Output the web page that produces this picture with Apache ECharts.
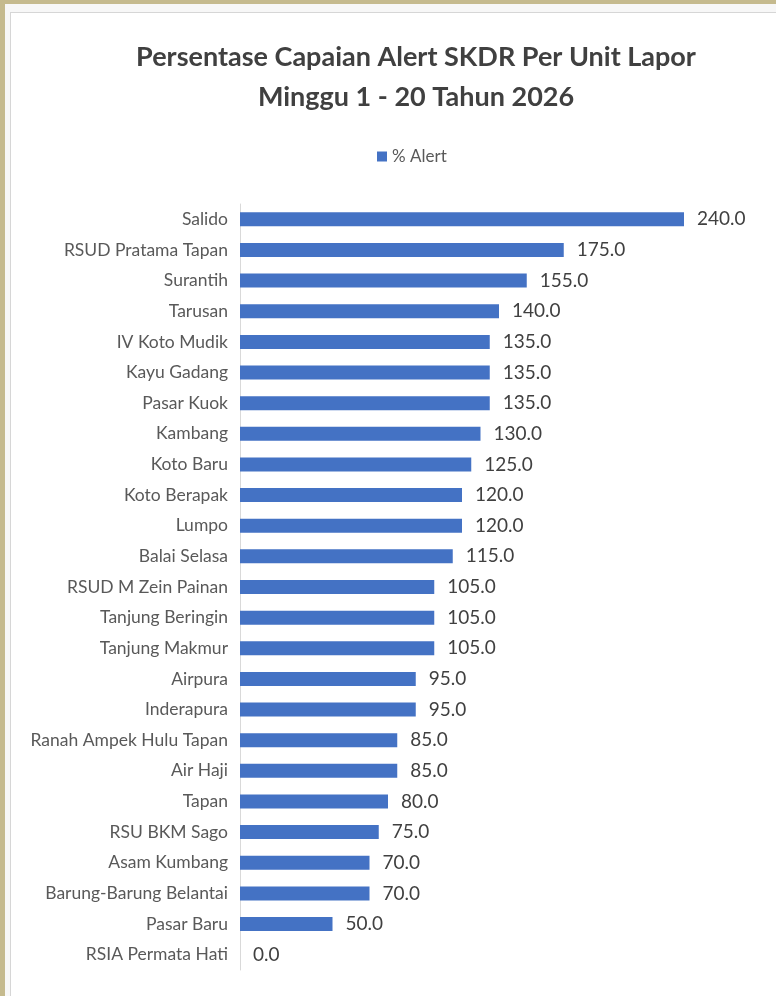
<!DOCTYPE html>
<html>
<head>
<meta charset="utf-8">
<script src="https://cdn.jsdelivr.net/npm/echarts@6/dist/echarts.min.js"></script>
<style>
  html, body { margin: 0; padding: 0; width: 776px; height: 996px; overflow: hidden; background: #c5ba8e; }
  #sheet { position: absolute; left: 5px; top: 4px; right: 0; bottom: 0; background: #f7f7f7; }
  #frame { position: absolute; left: 10px; top: 12px; right: 0; bottom: 0; background: #ffffff; border-left: 1px solid #d6d6d6; border-top: 1px solid #d6d6d6; }
  #chart { position: absolute; left: 0; top: 0; width: 776px; height: 996px; }
</style>
</head>
<body>
<div id="sheet"></div>
<div id="frame"></div>
<div id="chart"></div>
<script>
const categories = [
  "Salido", "RSUD Pratama Tapan", "Surantih", "Tarusan", "IV Koto Mudik",
  "Kayu Gadang", "Pasar Kuok", "Kambang", "Koto Baru", "Koto Berapak",
  "Lumpo", "Balai Selasa", "RSUD M Zein Painan", "Tanjung Beringin", "Tanjung Makmur",
  "Airpura", "Inderapura", "Ranah Ampek Hulu Tapan", "Air Haji", "Tapan",
  "RSU BKM Sago", "Asam Kumbang", "Barung-Barung Belantai", "Pasar Baru", "RSIA Permata Hati"
];
const alertValues = [
  240, 175, 155, 140, 135,
  135, 135, 130, 125, 120,
  120, 115, 105, 105, 105,
  95, 95, 85, 85, 80,
  75, 70, 70, 50, 0
];
const seriesName = "% Alert";
const titleText = "Persentase Capaian Alert SKDR Per Unit Lapor\nMinggu 1 - 20 Tahun 2026";

const chart = echarts.init(document.getElementById('chart'), null, { renderer: 'canvas' });
chart.setOption({
  backgroundColor: 'transparent',
  animation: false,
  title: {
    text: titleText,
    left: 411,
    textAlign: 'center',
    top: 32,
    textStyle: {
      fontFamily: 'Lato',
      fontWeight: 'bold',
      fontSize: 27,
      lineHeight: 40,
      color: '#404040'
    }
  },
  legend: {
    data: [seriesName],
    top: 143,
    left: 372,
    icon: 'rect',
    itemWidth: 10,
    itemHeight: 10,
    itemGap: 6,
    textStyle: { fontFamily: 'Lato', fontSize: 17, color: '#595959' }
  },
  grid: { left: 240, right: 18, top: 204, bottom: 26, containLabel: false },
  xAxis: {
    type: 'value',
    min: 0,
    max: 280,
    show: false
  },
  yAxis: {
    type: 'category',
    data: categories,
    inverse: true,
    axisLine: { show: true, lineStyle: { color: '#d9d9d9', width: 1 } },
    axisTick: { show: false },
    axisLabel: { fontFamily: 'Lato', fontSize: 17.5, color: '#595959', margin: 12 }
  },
  series: [{
    name: seriesName,
    type: 'bar',
    data: alertValues,
    barWidth: 14,
    itemStyle: { color: '#4472C4' },
    label: {
      show: true,
      position: 'right',
      distance: 13,
      fontFamily: 'Lato',
      fontSize: 19,
      color: '#404040',
      formatter: p => Number(p.value).toFixed(1)
    }
  }]
});
</script>
</body>
</html>
